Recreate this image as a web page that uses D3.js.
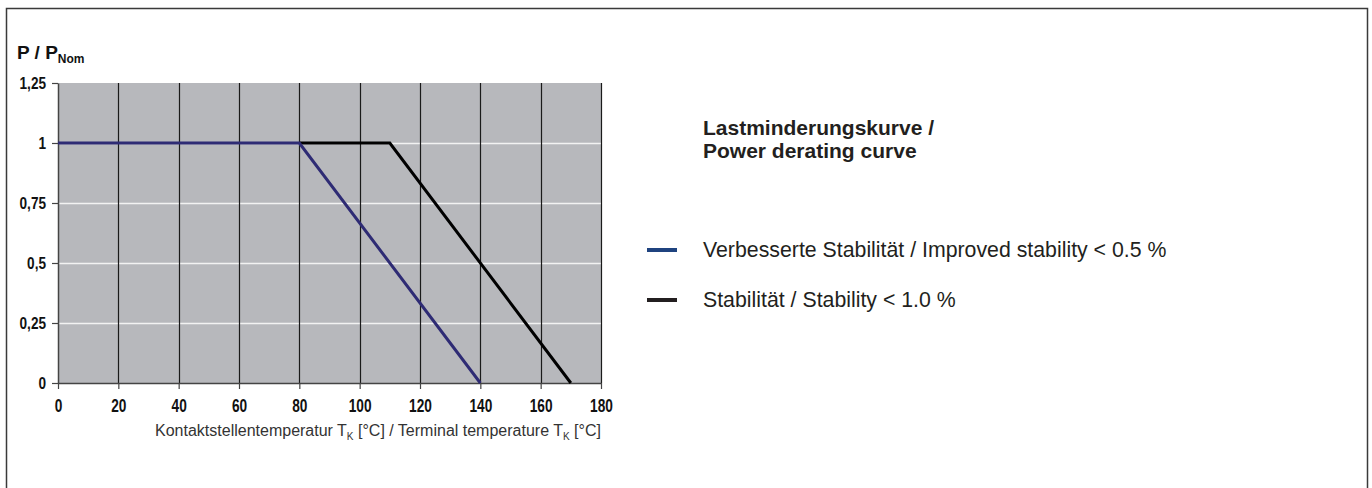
<!DOCTYPE html>
<html>
<head>
<meta charset="utf-8">
<script src="https://cdnjs.cloudflare.com/ajax/libs/d3/7.8.5/d3.min.js"></script>
<style>
body { margin: 0; background: #fff; }
svg { display: block; }
</style>
</head>
<body>
<div id="chart"></div>
<script>
// derating curves
var improvedX = [0, 80, 140],
    improvedY = [1, 1, 0],
    standardX = [80, 110, 170],
    standardY = [1, 1, 0];

var xTicks = [0, 20, 40, 60, 80, 100, 120, 140, 160, 180],
    yTicks = [0, 0.25, 0.5, 0.75, 1, 1.25],
    yTickLabels = ["0", "0,25", "0,5", "0,75", "1", "1,25"];

var legendNames = ["Verbesserte Stabilität / Improved stability < 0.5 %", "Stabilität / Stability < 1.0 %"],
    legendColors = ["#1f437f", "#231f20"],
    lineColors = ["#2e2b74", "#000000"];

var W = 1372, H = 488;
var margin = {top: 83, left: 58},
    width = 543,
    height = 300;

var svg = d3.select("#chart").append("svg")
  .attr("width", W)
  .attr("height", H);

// outer frame
svg.append("rect")
  .attr("x", 6.5).attr("y", 8.5)
  .attr("width", 1361).attr("height", 500)
  .attr("fill", "none")
  .attr("stroke", "#3a3a3a")
  .attr("stroke-width", 1.5);

var x = d3.scaleLinear().domain([0, 180]).range([0, width]);
var y = d3.scaleLinear().domain([0, 1.25]).range([height, 0]);

var g = svg.append("g")
  .attr("transform", "translate(" + margin.left + "," + margin.top + ")");

g.append("rect")
  .attr("width", width).attr("height", height)
  .attr("fill", "#b7b8bc");

// horizontal grid (white)
g.selectAll(".hgrid")
  .data(yTicks.filter(function(d) { return d > 0 && d < 1.25; }))
  .enter().append("line")
  .attr("x1", 0).attr("x2", width)
  .attr("y1", function(d) { return Math.round(y(d)) + 0.5; })
  .attr("y2", function(d) { return Math.round(y(d)) + 0.5; })
  .attr("stroke", "#f2f2f2")
  .attr("stroke-width", 1.5);

// vertical grid (black)
g.selectAll(".vgrid")
  .data(xTicks.filter(function(d) { return d > 0; }))
  .enter().append("line")
  .attr("x1", function(d) { return Math.round(x(d)) + 0.5; })
  .attr("x2", function(d) { return Math.round(x(d)) + 0.5; })
  .attr("y1", 0).attr("y2", height)
  .attr("stroke", "#1a1a1a")
  .attr("stroke-width", 1.2);

// axes
var xAxis = g.append("g")
  .attr("transform", "translate(0," + height + ")")
  .call(d3.axisBottom(x).tickValues(xTicks).tickSize(6).tickPadding(6).tickSizeOuter(0));
var yAxis = g.append("g")
  .call(d3.axisLeft(y).tickValues(yTicks).tickSize(6).tickPadding(6).tickSizeOuter(0)
    .tickFormat(function(d, i) { return yTickLabels[i]; }));

var sx = 0.76;
[xAxis, yAxis].forEach(function(a) {
  a.attr("font-size", null);
  a.select(".domain").attr("stroke", "#444").attr("stroke-width", 1.5);
  a.selectAll(".tick line").attr("stroke", "#444").attr("stroke-width", 1.2);
  a.selectAll(".tick text")
    .attr("fill", "#111")
    .style("font-family", "'Liberation Sans Narrow', 'Arial Narrow', Arial, sans-serif")
    .style("font-weight", "bold");
});
xAxis.selectAll(".tick text")
  .style("font-size", "18px")
  .attr("dy", "0.95em")
  .attr("transform", "scale(" + sx + ",1)");
yAxis.selectAll(".tick text")
  .style("font-size", "17px")
  .attr("x", -12 / 0.8)
  .attr("transform", "scale(0.8,1)");

// curves
var line = d3.line()
  .x(function(d) { return x(d[0]); })
  .y(function(d) { return y(d[1]); });

var series = [d3.zip(improvedX, improvedY), d3.zip(standardX, standardY)];

g.selectAll(".curve")
  .data(series.slice().reverse())
  .enter().append("path")
  .attr("d", line)
  .attr("fill", "none")
  .attr("stroke", function(d, i) { return lineColors[1 - i]; })
  .attr("stroke-width", 3)
  .attr("stroke-linejoin", "miter");

// y title
var yt = svg.append("text")
  .attr("x", 17).attr("y", 59)
  .attr("fill", "#111")
  .style("font-family", "Arial, 'Liberation Sans', sans-serif")
  .style("font-size", "19px")
  .style("font-weight", "bold");
yt.append("tspan").text("P / P");
yt.append("tspan").attr("dy", 4).style("font-size", "12px").text("Nom");

// x title
var xt = svg.append("text")
  .attr("x", 378).attr("y", 436)
  .attr("text-anchor", "middle")
  .attr("fill", "#333")
  .style("font-family", "Arial, 'Liberation Sans', sans-serif")
  .style("font-size", "16px");
xt.append("tspan").text("Kontaktstellentemperatur T");
xt.append("tspan").attr("dy", 4).style("font-size", "10px").text("K");
xt.append("tspan").attr("dy", -4).text(" [°C] / Terminal temperature T");
xt.append("tspan").attr("dy", 4).style("font-size", "10px").text("K");
xt.append("tspan").attr("dy", -4).text(" [°C]");

// legend
var legendTitle = svg.append("g")
  .style("font-family", "Arial, 'Liberation Sans', sans-serif")
  .style("font-size", "21px")
  .style("font-weight", "bold")
  .attr("fill", "#231f20");
legendTitle.append("text").attr("x", 703).attr("y", 135).text("Lastminderungskurve /");
legendTitle.append("text").attr("x", 703).attr("y", 158).text("Power derating curve");

var leg = svg.selectAll(".leg")
  .data(legendNames)
  .enter().append("g")
  .attr("transform", function(d, i) { return "translate(647," + (250 + i * 50) + ")"; });
leg.append("line")
  .attr("x1", 0).attr("x2", 30)
  .attr("stroke", function(d, i) { return legendColors[i]; })
  .attr("stroke-width", 4);
leg.append("text")
  .attr("x", 56).attr("y", 7)
  .attr("fill", "#231f20")
  .style("font-family", "Arial, 'Liberation Sans', sans-serif")
  .style("font-size", "21.3px")
  .text(function(d) { return d; });
</script>
</body>
</html>
